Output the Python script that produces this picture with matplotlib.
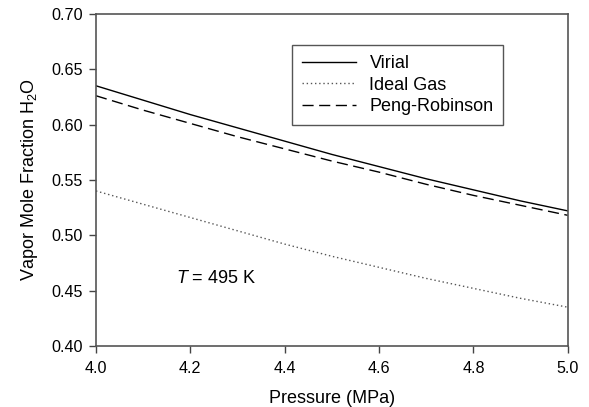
import matplotlib
matplotlib.use("Agg")
import matplotlib.pyplot as plt

# 数据
pressure = [4.0, 4.1, 4.2, 4.3, 4.4, 4.5, 4.6, 4.7, 4.8, 4.9, 5.0]
virial = [0.635, 0.622, 0.609, 0.597, 0.585, 0.573, 0.562, 0.551, 0.541, 0.531, 0.522]
ideal_gas = [0.540, 0.528, 0.516, 0.504, 0.492, 0.481, 0.471, 0.461, 0.452, 0.443, 0.435]
peng_robinson = [0.626, 0.613, 0.601, 0.589, 0.578, 0.567, 0.557, 0.546, 0.536, 0.527, 0.518]

x_ticks = [4.0, 4.2, 4.4, 4.6, 4.8, 5.0]
y_ticks = [0.40, 0.45, 0.50, 0.55, 0.60, 0.65, 0.70]

plt.rcParams['font.family'] = ['Liberation Sans', 'DejaVu Sans']
plt.rcParams['mathtext.fontset'] = 'custom'
plt.rcParams['mathtext.rm'] = 'Liberation Sans'
plt.rcParams['mathtext.it'] = 'Liberation Sans:italic'

fig = plt.figure(figsize=(5.89, 4.07), dpi=100)
ax = fig.add_axes([0.163, 0.150, 0.801, 0.816])

ax.plot(pressure, virial, color='black', linewidth=1.0, label='Virial')
ax.plot(pressure, ideal_gas, color='#555555', linewidth=1.0, linestyle=(0, (1, 2)), label='Ideal Gas')
ax.plot(pressure, peng_robinson, color='black', linewidth=1.0, linestyle=(0, (8, 4)), label='Peng-Robinson')

ax.set_xlim(4.0, 5.0)
ax.set_ylim(0.40, 0.70)
ax.set_xticks(x_ticks)
ax.set_xticklabels([f"{v:.1f}" for v in x_ticks])
ax.set_yticks(y_ticks)
ax.set_yticklabels([f"{v:.2f}" for v in y_ticks])
ax.tick_params(direction='out', length=5, width=1, color='#444444', labelsize=11.6)
ax.tick_params(axis='y', pad=4.5)
ax.tick_params(axis='x', pad=6)
for s in ax.spines.values():
    s.set_color('#555555')
    s.set_linewidth(1.2)

ax.set_xlabel('Pressure (MPa)', fontsize=13, labelpad=10)
ax.set_ylabel('Vapor Mole Fraction H$_\\mathregular{2}$O', fontsize=13, labelpad=8)

ax.text(4.169, 0.4607, '$T$ = 495 K', fontsize=13, va='center', ha='left')

leg = ax.legend(loc='upper left', bbox_to_anchor=(0.415, 0.906), fontsize=13,
                handlelength=3.0, handletextpad=0.75, labelspacing=0.25,
                fancybox=False, framealpha=1, borderpad=0.55, borderaxespad=0)
leg.get_frame().set_edgecolor('#555555')
leg.get_frame().set_linewidth(1.0)

fig.savefig('out.png', dpi=100)
